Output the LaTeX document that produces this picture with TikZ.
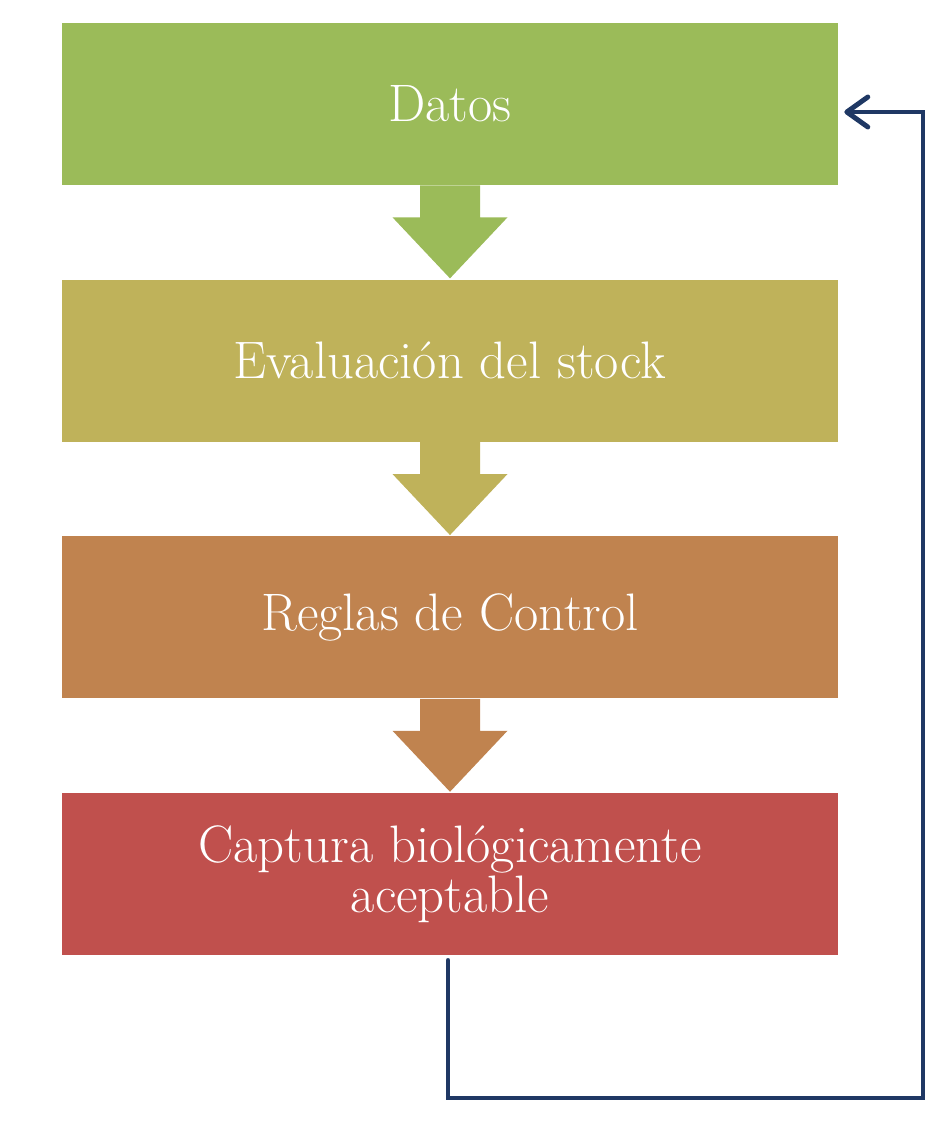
\documentclass[tikz,border=0pt]{standalone}
\usepackage{fontspec}
\usepackage{tikz}
\usetikzlibrary{arrows.meta, positioning, calc}
\definecolor{stageGreen}{HTML}{9BBB59}
\definecolor{stageOlive}{HTML}{BFB25A}
\definecolor{stageOchre}{HTML}{C0834F}
\definecolor{stageRed}{HTML}{C0504D}
\definecolor{loopNavy}{HTML}{1F3864}

\tikzset{
  stage/.style={rectangle, minimum width=15.52cm, minimum height=3.24cm,
    text=white, align=center, inner sep=0pt, font=\fontsize{30}{28}\selectfont},
  feedback/.style={draw=loopNavy, line width=2.8pt, line cap=round, line join=miter,
    -{Straight Barb[length=0.42cm, width=0.6cm, line width=2.8pt, round]}}
}

% block arrow between two stacked stages
\newcommand{\blockarrow}[3]{%
  \fill[#3] ($(#1.south)+(-0.6,0)$) -- ++(0,-0.64) -- ++(-0.55,0)
    -- ($(#2.north)+(0,0.02)$) -- ($(#1.south)+(1.15,-0.64)$)
    -- ++(-0.55,0) -- ($(#1.south)+(0.6,0)$) -- cycle;}

\begin{document}
\begin{tikzpicture}
  % 1px of the sketch = 0.02cm
  \useasboundingbox (0,0) rectangle (19,-22.92);
  \def\gap{1.88cm}

  \node[stage, fill=stageGreen] (datos) at (9.0,-2.08) {Datos};
  \node[stage, fill=stageOlive, below=\gap of datos] (eval) {Evaluación del stock};
  \node[stage, fill=stageOchre, below=\gap of eval] (reglas) {Reglas de Control};
  \node[stage, fill=stageRed, below=\gap of reglas] (captura)
    {Captura biológicamente\\aceptable};

  \blockarrow{datos}{eval}{stageGreen}
  \blockarrow{eval}{reglas}{stageOlive}
  \blockarrow{reglas}{captura}{stageOchre}

  % loop back from the catch to the data
  \coordinate (out) at ($(captura.south)+(-0.04,-0.1)$);
  \coordinate (back) at ($(datos.east)+(0.12,-0.16)$);
  \draw[feedback] (out) |- (18.46,-21.96) |- (back);
\end{tikzpicture}
\end{document}
